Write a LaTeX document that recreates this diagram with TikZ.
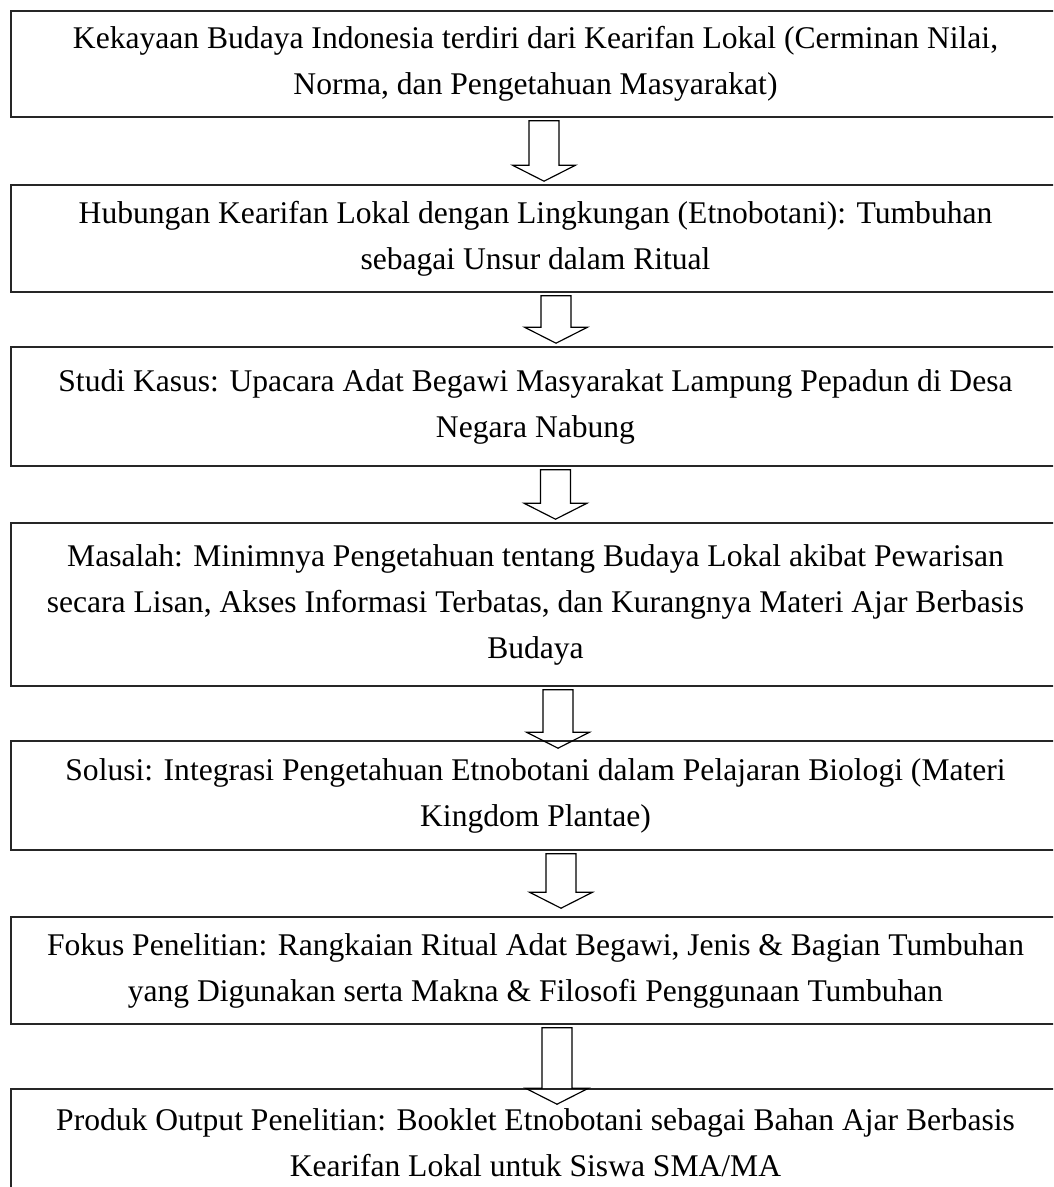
\documentclass[tikz,border=0pt]{standalone}
\usepackage{fontspec}
\setmainfont{Liberation Serif}
\usetikzlibrary{calc}

\def\pxu{0.38pt}

\begin{document}
\begin{tikzpicture}[x=0.38pt, y=-0.38pt,
    flowbox/.style={draw=black!85, line width=0.6pt, align=center,
        minimum width=1049*\pxu, inner sep=0pt,
        font=\fontsize{12}{17.5}\selectfont},
    blockarrow/.style={draw=black, line width=0.45pt, line join=miter}]

    % frame
    \useasboundingbox (0,0) rectangle (1053,1187);
    \clip (0,0) rectangle (1053,1187);


    % boxes
    \node[flowbox, minimum height=106*\pxu] (box1) at (535.5,64)
        {Kekayaan Budaya Indonesia terdiri dari Kearifan Lokal (Cerminan Nilai,\\
         Norma, dan Pengetahuan Masyarakat)};

    \node[flowbox, minimum height=107*\pxu] (box2) at (535.5,238.5)
        {Hubungan Kearifan Lokal dengan Lingkungan (Etnobotani): Tumbuhan\\
         sebagai Unsur dalam Ritual};

    \node[flowbox, minimum height=119*\pxu] (box3) at (535.5,406.5)
        {Studi Kasus: Upacara Adat Begawi Masyarakat Lampung Pepadun di Desa\\
         Negara Nabung};

    \node[flowbox, minimum height=163*\pxu] (box4) at (535.5,604.5)
        {Masalah: Minimnya Pengetahuan tentang Budaya Lokal akibat Pewarisan\\
         secara Lisan, Akses Informasi Terbatas, dan Kurangnya Materi Ajar Berbasis\\
         Budaya};

    \node[flowbox, minimum height=109*\pxu] (box5) at (535.5,795.5)
        {Solusi: Integrasi Pengetahuan Etnobotani dalam Pelajaran Biologi (Materi\\
         Kingdom Plantae)};

    \node[flowbox, minimum height=107*\pxu] (box6) at (535.5,970.5)
        {Fokus Penelitian: Rangkaian Ritual Adat Begawi, Jenis \& Bagian Tumbuhan\\
         yang Digunakan serta Makna \& Filosofi Penggunaan Tumbuhan};

    \node[flowbox, minimum height=108*\pxu] (box7) at (535.5,1143)
        {Produk Output Penelitian: Booklet Etnobotani sebagai Bahan Ajar Berbasis\\
         Kearifan Lokal untuk Siswa SMA/MA};


    % block arrows
    \foreach \a/\b/\dx/\dy in {box1/box2/8.5/-3, box2/box3/20.5/-3,
                               box3/box4/20/-3, box4/box5/22.5/8,
                               box5/box6/25.5/-8, box6/box7/21.5/16} {
        \coordinate (top) at ($(\a.south)+(\dx,3)$);
        \coordinate (tip) at ($(\b.north)+(\dx,\dy)$);
        \draw[blockarrow]
            ($(top)+(-15,0)$) --
            ($(tip)+(-15,-16)$) --
            ($(tip)+(-31.5,-16)$) --
            (tip) --
            ($(tip)+(31.5,-16)$) --
            ($(tip)+(15,-16)$) --
            ($(top)+(15,0)$) -- cycle;
    }

\end{tikzpicture}
\end{document}
